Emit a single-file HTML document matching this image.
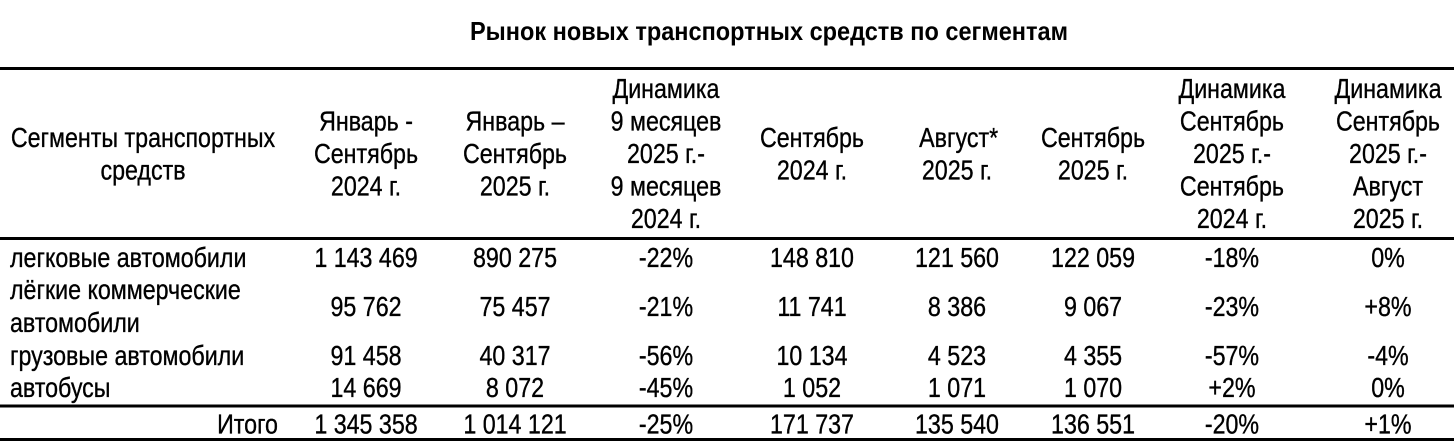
<!DOCTYPE html>
<html>
<head>
<meta charset="utf-8">
<style>
html,body{margin:0;padding:0;background:#fff;}
svg{display:block;}
text{font-family:"Liberation Sans","Noto Sans CJK SC",sans-serif;fill:#000;}
.t{font-size:28px;}
.t text{stroke:#000;stroke-width:0.35px;}
.c{text-anchor:middle;}
</style>
</head>
<body>
<svg width="1454" height="448" viewBox="0 0 1454 448" xmlns="http://www.w3.org/2000/svg">
<rect x="0" y="0" width="1454" height="448" fill="#fff"/>
<text x="470" y="40" font-size="26" font-weight="bold" textLength="598" lengthAdjust="spacingAndGlyphs">Рынок новых транспортных средств по сегментам</text>

<rect x="0" y="67" width="1454" height="3" fill="#000"/>
<rect x="0" y="237" width="1454" height="3" fill="#000"/>
<rect x="0" y="404.5" width="1454" height="3" fill="#000"/>
<rect x="0" y="438" width="1454" height="3" fill="#000"/>

<g transform="scale(0.83,1)" class="t">
<!-- header col1 -->
<text class="c" x="172.3" y="147">Сегменты транспортных</text>
<text class="c" x="172.3" y="179.5">средств</text>
<!-- col2 -->
<text class="c" x="441" y="130.5">Январь -</text>
<text class="c" x="441" y="163">Сентябрь</text>
<text class="c" x="441" y="195.5">2024 г.</text>
<!-- col3 -->
<text class="c" x="620.5" y="130.5">Январь –</text>
<text class="c" x="620.5" y="163">Сентябрь</text>
<text class="c" x="620.5" y="195.5">2025 г.</text>
<!-- col4 -->
<text class="c" x="802.4" y="98">Динамика</text>
<text class="c" x="802.4" y="130.5">9 месяцев</text>
<text class="c" x="802.4" y="163">2025 г.-</text>
<text class="c" x="802.4" y="195.5">9 месяцев</text>
<text class="c" x="802.4" y="228">2024 г.</text>
<!-- col5 -->
<text class="c" x="978.3" y="147">Сентябрь</text>
<text class="c" x="978.3" y="179.5">2024 г.</text>
<!-- col6 -->
<text class="c" x="1155" y="147">Август*</text>
<text class="c" x="1153" y="179.5">2025 г.</text>
<!-- col7 -->
<text class="c" x="1316.9" y="147">Сентябрь</text>
<text class="c" x="1316.9" y="179.5">2025 г.</text>
<!-- col8 -->
<text class="c" x="1484.3" y="98">Динамика</text>
<text class="c" x="1484.3" y="130.5">Сентябрь</text>
<text class="c" x="1484.3" y="163">2025 г.-</text>
<text class="c" x="1484.3" y="195.5">Сентябрь</text>
<text class="c" x="1484.3" y="228">2024 г.</text>
<!-- col9 -->
<text class="c" x="1672.3" y="98">Динамика</text>
<text class="c" x="1672.3" y="130.5">Сентябрь</text>
<text class="c" x="1672.3" y="163">2025 г.-</text>
<text class="c" x="1672.3" y="195.5">Август</text>
<text class="c" x="1672.3" y="228">2025 г.</text>

<!-- row 1 -->
<text x="12.05" y="267">легковые автомобили</text>
<text class="c" x="441" y="267">1 143 469</text>
<text class="c" x="620.5" y="267">890 275</text>
<text class="c" x="802.4" y="267">-22%</text>
<text class="c" x="978.3" y="267">148 810</text>
<text class="c" x="1153" y="267">121 560</text>
<text class="c" x="1316.9" y="267">122 059</text>
<text class="c" x="1484.3" y="267">-18%</text>
<text class="c" x="1672.3" y="267">0%</text>

<!-- row 2 -->
<text x="12.05" y="299">лёгкие коммерческие</text>
<text x="12.05" y="332">автомобили</text>
<text class="c" x="441" y="316">95 762</text>
<text class="c" x="620.5" y="316">75 457</text>
<text class="c" x="802.4" y="316">-21%</text>
<text class="c" x="978.3" y="316">11 741</text>
<text class="c" x="1153" y="316">8 386</text>
<text class="c" x="1316.9" y="316">9 067</text>
<text class="c" x="1484.3" y="316">-23%</text>
<text class="c" x="1672.3" y="316">+8%</text>

<!-- row 3 -->
<text x="12.05" y="365">грузовые автомобили</text>
<text class="c" x="441" y="365">91 458</text>
<text class="c" x="620.5" y="365">40 317</text>
<text class="c" x="802.4" y="365">-56%</text>
<text class="c" x="978.3" y="365">10 134</text>
<text class="c" x="1153" y="365">4 523</text>
<text class="c" x="1316.9" y="365">4 355</text>
<text class="c" x="1484.3" y="365">-57%</text>
<text class="c" x="1672.3" y="365">-4%</text>

<!-- row 4 -->
<text x="12.05" y="397">автобусы</text>
<text class="c" x="441" y="397">14 669</text>
<text class="c" x="620.5" y="397">8 072</text>
<text class="c" x="802.4" y="397">-45%</text>
<text class="c" x="978.3" y="397">1 052</text>
<text class="c" x="1153" y="397">1 071</text>
<text class="c" x="1316.9" y="397">1 070</text>
<text class="c" x="1484.3" y="397">+2%</text>
<text class="c" x="1672.3" y="397">0%</text>

<!-- total -->
<text x="334.9" y="433.5" text-anchor="end">Итого</text>
<text class="c" x="441" y="433.5">1 345 358</text>
<text class="c" x="620.5" y="433.5">1 014 121</text>
<text class="c" x="802.4" y="433.5">-25%</text>
<text class="c" x="978.3" y="433.5">171 737</text>
<text class="c" x="1153" y="433.5">135 540</text>
<text class="c" x="1316.9" y="433.5">136 551</text>
<text class="c" x="1484.3" y="433.5">-20%</text>
<text class="c" x="1672.3" y="433.5">+1%</text>
</g>
</svg>
</body>
</html>
